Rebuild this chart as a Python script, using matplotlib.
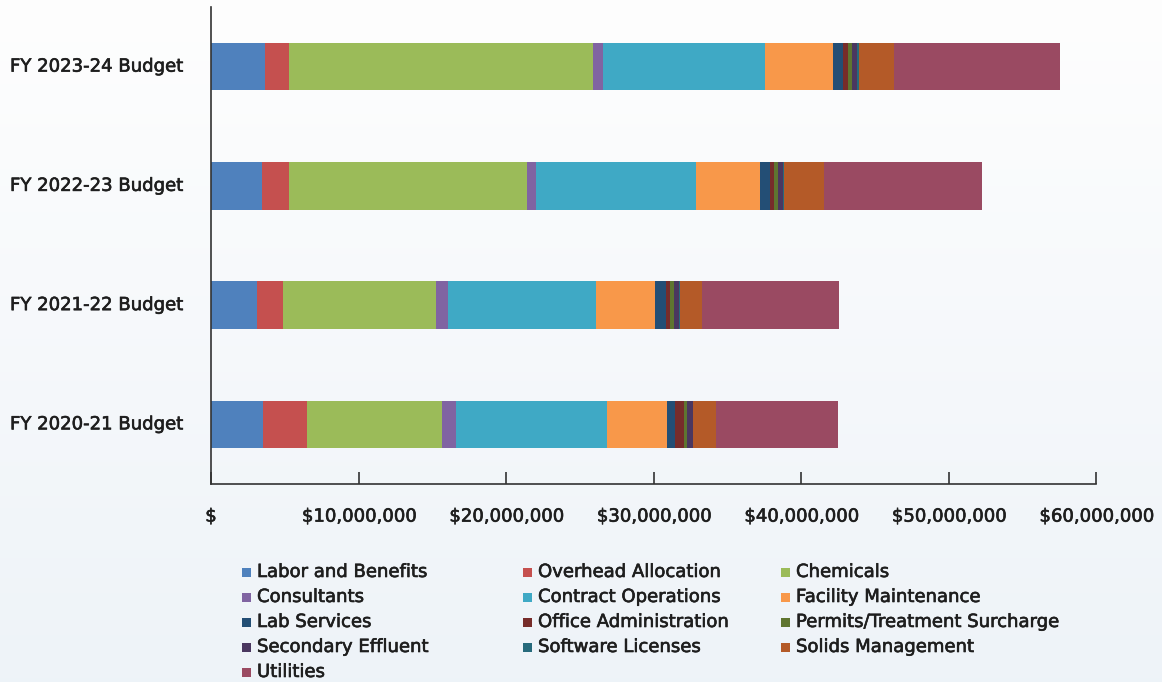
import numpy as np
import matplotlib.pyplot as plt
import matplotlib.patheffects as pe
from matplotlib.patches import Rectangle
from matplotlib.transforms import blended_transform_factory
from matplotlib.ticker import FuncFormatter

plt.rcParams['font.family'] = ['DejaVu Sans']

budgets = ['FY 2020-21 Budget', 'FY 2021-22 Budget', 'FY 2022-23 Budget', 'FY 2023-24 Budget']

# values in $ millions, same order as budgets
labor = [3.54, 3.09, 3.49, 3.63]
overhead = [2.94, 1.76, 1.77, 1.63]
chemicals = [9.16, 10.38, 16.14, 20.62]
consultants = [0.95, 0.81, 0.60, 0.68]
contract_ops = [10.24, 10.04, 10.87, 10.99]
facility = [4.07, 4.01, 4.34, 4.61]
lab = [0.57, 0.74, 0.66, 0.70]
office = [0.59, 0.28, 0.29, 0.32]
permits = [0.20, 0.27, 0.25, 0.27]
secondary = [0.39, 0.36, 0.36, 0.34]
software = [0.02, 0.06, 0.07, 0.14]
solids = [1.56, 1.46, 2.69, 2.35]
utilities = [8.27, 9.31, 10.74, 11.28]

categories = ['Labor and Benefits', 'Overhead Allocation', 'Chemicals',
              'Consultants', 'Contract Operations', 'Facility Maintenance',
              'Lab Services', 'Office Administration', 'Permits/Treatment Surcharge',
              'Secondary Effluent', 'Software Licenses', 'Solids Management',
              'Utilities']
series = [labor, overhead, chemicals, consultants, contract_ops, facility,
          lab, office, permits, secondary, software, solids, utilities]
colors = ['#4F81BD', '#C5504F', '#9BBB59', '#8064A2', '#3FA9C5', '#F8984A',
          '#234E75', '#772C2A', '#5F7530', '#4A3760', '#276A7C', '#B45A28',
          '#9A4A62']

W, H = 1162, 682
FS = 13
TXT = '#1e1e1e'
# slight stroke to get a medium weight look
heavy = [pe.withStroke(linewidth=0.45, foreground=TXT)]
fig = plt.figure(figsize=(W / 100, H / 100), dpi=100)

# soft vertical gradient background
bg = fig.add_axes([0, 0, 1, 1], zorder=-1)
grad = np.linspace(0, 1, 512).reshape(-1, 1)
top = np.array([0.996, 0.996, 0.996])
bottom = np.array([0.933, 0.953, 0.973])
img = top + (bottom - top) * grad[:, :, None]
bg.imshow(img, aspect='auto', extent=[0, 1, 0, 1])
bg.axis('off')

ax = fig.add_axes([211 / W, 1 - 484 / H, (1096 - 211) / W, (484 - 7) / H])
ax.set_facecolor('none')

y = np.arange(len(budgets))
left = np.zeros(len(budgets))
for name, vals, c in zip(categories, series, colors):
    v = np.array(vals) * 1e6
    ax.barh(y, v, left=left, height=0.4, color=c, label=name)
    left += v

ax.set_xlim(0, 60e6)
ax.set_ylim(-0.5, 3.5)
ax.set_xticks(np.arange(0, 60e6 + 1, 10e6))
ax.xaxis.set_major_formatter(FuncFormatter(lambda v, p: '$' if v == 0 else '${:,.0f}'.format(v)))
ax.tick_params(axis='x', direction='in', length=8.5, width=1.2, color='#333333',
               pad=17, labelsize=FS, labelcolor=TXT)
for t in ax.get_xticklabels():
    t.set_path_effects(heavy)
ax.set_yticks([])
for s in ['top', 'right']:
    ax.spines[s].set_visible(False)
ax.spines['left'].set_color('#333333')
ax.spines['bottom'].set_color('#333333')
ax.spines['left'].set_linewidth(1.2)
ax.spines['bottom'].set_linewidth(1.2)

# category labels, left aligned at figure edge
tr = blended_transform_factory(fig.transFigure, ax.transData)
for yi, b in zip(y, budgets):
    fig.text(10 / W, yi, b, transform=tr, ha='left', va='center',
             fontsize=FS, color=TXT, path_effects=heavy)

# legend laid out in rows of three
sq_x = [242, 523, 781]
row_y = [572, 597, 622, 647, 672]
for i, (name, c) in enumerate(zip(categories, colors)):
    r, col = divmod(i, 3)
    x0, y0 = sq_x[col], row_y[r]
    fig.add_artist(Rectangle((x0 / W, 1 - (y0 + 4.5) / H), 9 / W, 9 / H,
                             transform=fig.transFigure, color=c, lw=0))
    fig.text((x0 + 15) / W, 1 - y0 / H, name, ha='left', va='center',
             fontsize=FS, color=TXT, path_effects=heavy)

fig.savefig('out.png', dpi=100)
